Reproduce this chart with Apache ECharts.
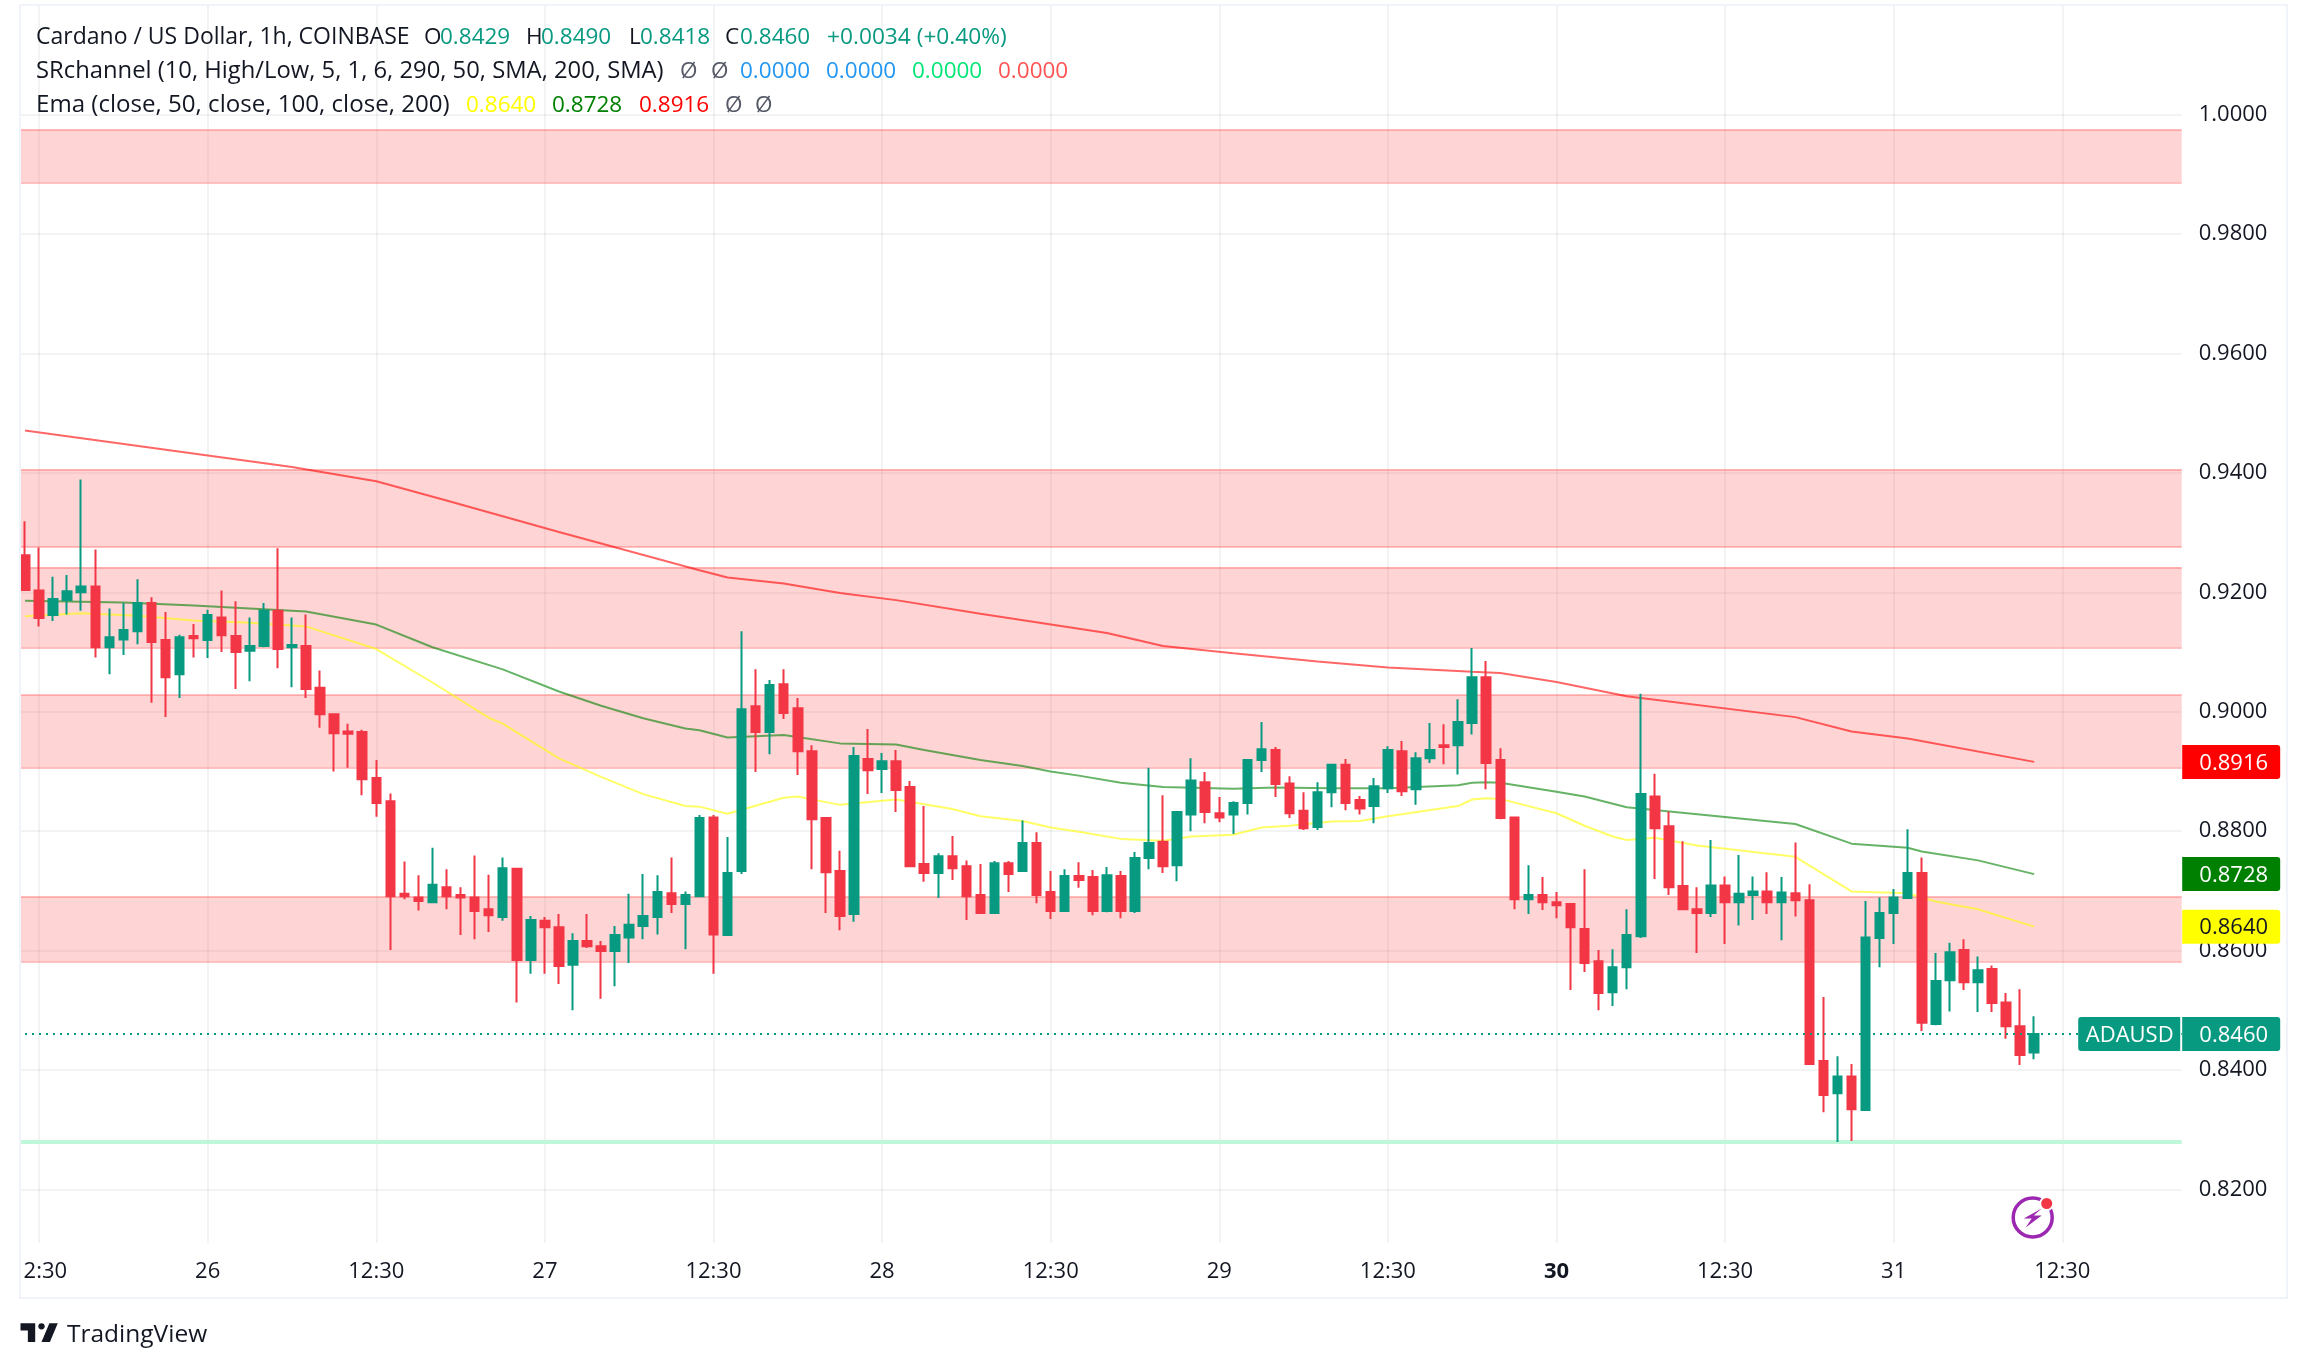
<!DOCTYPE html>
<html>
<head>
<meta charset="utf-8">
<style>html,body{margin:0;padding:0;background:#fff}#chart-container{width:2308px;height:1369px}</style>
<script src="https://cdn.jsdelivr.net/npm/echarts@6/dist/echarts.min.js"></script>
</head>
<body>
<div id="chart-container"></div>
<script>
// OHLC, one entry per hourly bar
const opens = [
  .9262,.9203,.9162,.9187,.9200,.9210,.9108,.9121,.9135,.9182,
  .9120,.9063,.9127,.9120,.9158,.9127,.9102,.9110,.9169,.9108,
  .9110,.9040,.8996,.8967,.8966,.8889,.8850,.8695,.8689,.8681,
  .8706,.8693,.8689,.8669,.8656,.8737,.8584,.8650,.8639,.8576,
  .8616,.8607,.8599,.8622,.8641,.8656,.8696,.8678,.8691,.8823,
  .8626,.8733,.9009,.8966,.9046,.9006,.8934,.8822,.8733,.8661,
  .8921,.8904,.8917,.8874,.8745,.8730,.8758,.8741,.8693,.8663,
  .8746,.8733,.8780,.8698,.8666,.8725,.8723,.8666,.8725,.8666,
  .8755,.8782,.8743,.8828,.8882,.8830,.8828,.8847,.8919,.8936,
  .8880,.8834,.8807,.8865,.8911,.8852,.8842,.8872,.8934,.8870,
  .8922,.8944,.8944,.8981,.9058,.8919,.8823,.8686,.8693,.8681,
  .8678,.8636,.8582,.8530,.8572,.8624,.8858,.8808,.8708,.8669,
  .8663,.8709,.8681,.8693,.8699,.8681,.8696,.8684,.8415,.8361,
  .8389,.8333,.8621,.8663,.8688,.8730,.8477,.8550,.8601,.8547,
  .8569,.8513,.8473,.8429
];
const highs = [
  .9319,.9275,.9226,.9229,.9389,.9272,.9173,.9182,.9222,.9192,
  .9167,.9129,.9147,.9171,.9203,.9185,.9158,.9182,.9274,.9158,
  .9163,.9069,.8996,.8980,.8970,.8919,.8863,.8749,.8726,.8772,
  .8736,.8706,.8759,.8727,.8756,.8738,.8658,.8656,.8661,.8629,
  .8661,.8616,.8641,.8695,.8728,.8726,.8756,.8699,.8827,.8827,
  .8790,.9135,.9071,.9053,.9071,.9023,.8944,.8822,.8767,.8941,
  .8971,.8931,.8936,.8884,.8842,.8763,.8792,.8751,.8745,.8750,
  .8750,.8818,.8798,.8733,.8736,.8748,.8735,.8740,.8733,.8765,
  .8906,.8860,.8832,.8922,.8899,.8857,.8850,.8921,.8983,.8941,
  .8892,.8865,.8882,.8911,.8921,.8859,.8889,.8942,.8951,.8932,
  .8981,.8979,.9021,.9107,.9085,.8939,.8823,.8743,.8723,.8698,
  .8678,.8736,.8601,.8602,.8669,.9030,.8896,.8833,.8783,.8706,
  .8785,.8724,.8760,.8724,.8731,.8723,.8781,.8711,.8522,.8423,
  .8410,.8683,.8689,.8703,.8803,.8756,.8596,.8613,.8619,.8590,
  .8575,.8529,.8535,.8490
];
const lows = [
  .9204,.9143,.9152,.9163,.9169,.9091,.9063,.9095,.9113,.9015,
  .8991,.9023,.9091,.9090,.9100,.9038,.9051,.9108,.9073,.9041,
  .9023,.8973,.8900,.8906,.8860,.8824,.8601,.8686,.8667,.8681,
  .8669,.8626,.8619,.8631,.8650,.8513,.8561,.8561,.8544,.8500,
  .8604,.8519,.8540,.8579,.8619,.8627,.8663,.8602,.8691,.8561,
  .8626,.8728,.8899,.8929,.8988,.8894,.8736,.8663,.8634,.8648,
  .8862,.8864,.8832,.8740,.8715,.8688,.8718,.8651,.8663,.8663,
  .8698,.8733,.8679,.8653,.8666,.8705,.8659,.8664,.8654,.8663,
  .8736,.8730,.8716,.8800,.8813,.8815,.8795,.8828,.8899,.8857,
  .8822,.8802,.8802,.8840,.8835,.8828,.8813,.8864,.8859,.8844,
  .8914,.8912,.8895,.8962,.8870,.8820,.8669,.8661,.8668,.8654,
  .8534,.8564,.8500,.8507,.8535,.8621,.8720,.8693,.8669,.8596,
  .8656,.8611,.8642,.8651,.8661,.8617,.8657,.8409,.8329,.8279,
  .8281,.8333,.8572,.8611,.8688,.8465,.8475,.8498,.8534,.8497,
  .8497,.8452,.8408,.8418
];
const closes = [
  .9204,.9157,.9189,.9202,.9210,.9108,.9125,.9137,.9182,.9117,
  .9058,.9125,.9123,.9162,.9128,.9100,.9110,.9169,.9105,.9112,
  .9038,.8996,.8964,.8963,.8887,.8847,.8691,.8691,.8683,.8710,
  .8691,.8689,.8666,.8659,.8738,.8584,.8651,.8639,.8574,.8616,
  .8607,.8599,.8626,.8643,.8658,.8698,.8678,.8693,.8822,.8627,
  .8730,.9004,.8966,.9045,.8998,.8934,.8820,.8731,.8658,.8926,
  .8902,.8917,.8869,.8741,.8730,.8758,.8738,.8691,.8663,.8746,
  .8728,.8780,.8693,.8666,.8725,.8718,.8666,.8726,.8666,.8755,
  .8780,.8741,.8832,.8885,.8832,.8823,.8847,.8919,.8937,.8879,
  .8830,.8805,.8865,.8911,.8847,.8838,.8875,.8936,.8867,.8922,
  .8936,.8941,.8983,.9058,.8914,.8822,.8686,.8693,.8681,.8676,
  .8639,.8579,.8529,.8572,.8626,.8862,.8805,.8706,.8669,.8663,
  .8709,.8681,.8695,.8699,.8681,.8697,.8684,.8410,.8358,.8389,
  .8334,.8622,.8663,.8689,.8730,.8479,.8549,.8597,.8547,.8567,
  .8512,.8473,.8425,.8460
];

// EMA curves, read at the bars where they bend
const emaRedBars = [0,19,25,30,38,48,50,54,58,62,68,77,81,86,92,97,103,105,109,114,126,130,134,143];
const emaRedVals = [.9471,.9410,.9386,.9354,.9301,.9237,.9225,.9215,.9199,.9187,.9164,.9132,.9110,.9098,.9084,.9074,.9067,.9065,.9050,.9026,.8991,.8967,.8955,.8916];
const emaGreenBars = [0,7,12,16,20,25,29,34,38,41,44,47,48,50,54,58,62,64,68,71,73,75,78,81,86,89,93,97,102,103,104,105,109,111,114,126,130,134,135,139,143];
const emaGreenVals = [.9186,.9183,.9178,.9173,.9168,.9146,.9108,.9071,.9034,.9010,.8989,.8972,.8969,.8957,.8961,.8947,.8945,.8936,.8919,.8909,.8900,.8893,.8881,.8874,.8871,.8873,.8872,.8872,.8877,.8881,.8882,.8881,.8866,.8858,.8840,.8812,.8779,.8772,.8766,.8751,.8728];
const emaYellowBars = [0,4,8,12,16,20,25,29,33,34,38,41,44,47,48,50,54,55,58,62,64,66,68,71,73,75,78,81,83,86,88,90,93,95,97,102,103,104,105,109,111,113,114,116,119,126,130,134,136,139,143];
const emaYellowVals = [.9160,.9165,.9161,.9153,.9149,.9143,.9105,.9049,.8990,.8980,.8922,.8891,.8862,.8842,.8841,.8829,.8856,.8858,.8844,.8853,.8845,.8837,.8825,.8817,.8806,.8799,.8787,.8784,.8791,.8794,.8806,.8809,.8816,.8817,.8825,.8842,.8853,.8855,.8854,.8830,.8809,.8791,.8785,.8789,.8776,.8757,.8699,.8696,.8682,.8669,.8640];

// support / resistance channels
const bandTops = [.9975,.9406,.9242,.9028,.8690];
const bandBottoms = [.9887,.9276,.9108,.8907,.8582];
const supportLevel = .8279;
const lastPrice = .8460;

// axes
const priceTicks = [.82,.84,.86,.88,.90,.92,.94,.96,.98,1.0];
const timeTickBars = [1,13,25,37,49,61,73,85,97,109,121,133,145];
const timeTickLabels = ['12:30','26','12:30','27','12:30','28','12:30','29','12:30','30','12:30','31','12:30'];
const barSlots = 154; // bars plus the empty space on the right

// price tags on the right scale
const tagValues = [.8916,.8728,.8640,.8460];
const tagTexts = ['0.8916','0.8728','0.8640','0.8460'];
const tagFills = ['#ff0000','#008000','#ffff00','#089981'];
const tagInks = ['#ffffff','#ffffff','#131722','#ffffff'];

// legend rows: text, colour, left edge, font size
const legendRow1 = [
  ['Cardano / US Dollar, 1h, COINBASE', '#131722', 36, 23],
  ['O', '#131722', 424, 22.5], ['0.8429', '#089981', 440, 22.5],
  ['H', '#131722', 526, 22.5], ['0.8490', '#089981', 541, 22.5],
  ['L', '#131722', 629, 22.5], ['0.8418', '#089981', 640, 22.5],
  ['C', '#131722', 725, 22.5], ['0.8460', '#089981', 740, 22.5],
  ['+0.0034 (+0.40%)', '#089981', 827, 22.7]
];
const legendRow2 = [
  ['SRchannel (10, High/Low, 5, 1, 6, 290, 50, SMA, 200, SMA)', '#131722', 36, 23.8],
  ['Ø', '#555a66', 680, 22.5], ['Ø', '#555a66', 711, 22.5],
  ['0.0000', '#2196f3', 740, 22.5], ['0.0000', '#2196f3', 826, 22.5],
  ['0.0000', '#00e676', 912, 22.5], ['0.0000', '#ff5252', 998, 22.5]
];
const legendRow3 = [
  ['Ema (close, 50, close, 100, close, 200)', '#131722', 36, 24.1],
  ['0.8640', '#ffff00', 466, 22.5], ['0.8728', '#008000', 552, 22.5], ['0.8916', '#ff0000', 639, 22.5],
  ['Ø', '#555a66', 725, 22.5], ['Ø', '#555a66', 755, 22.5]
];

const UP = '#089981';
const DOWN = '#f23645';
const FONT = '"Open Sans", sans-serif';

const categories = [];
for (let i = 0; i < barSlots; i++) {
  const k = timeTickBars.indexOf(i);
  categories.push(k >= 0 ? timeTickLabels[k] : '');
}
const isTimeTick = function (i) { return timeTickBars.indexOf(i) >= 0; };

const candleData = opens.map(function (o, i) { return [o, closes[i], lows[i], highs[i]]; });
const zip = function (xs, ys) { return xs.map(function (x, i) { return [x, ys[i]]; }); };

const bandAreas = bandTops.map(function (t, i) { return [{ yAxis: t }, { yAxis: bandBottoms[i] }]; });
const bandEdges = bandTops.concat(bandBottoms).map(function (v) { return { yAxis: v }; });

var dom = document.getElementById('chart-container');
var myChart = echarts.init(dom, null, { renderer: 'canvas' });

function emaSeries(bars, vals, color) {
  return {
    type: 'line', data: zip(bars, vals), showSymbol: false, silent: true, z: 2,
    lineStyle: { color: color, width: 2 }, animation: false
  };
}

function renderTag(params, api) {
  const y = api.coord([0, api.value(1)])[1];
  const i = params.dataIndex;
  const right = params.coordSys.x + params.coordSys.width;
  const children = [{
    type: 'rect',
    shape: { x: right + 0.5, y: y - 17, width: 98, height: 34, r: [0, 3, 3, 0] },
    style: { fill: tagFills[i] }
  }, {
    type: 'text',
    style: { x: right + 52, y: y + 1.5, text: tagTexts[i], fill: tagInks[i], font: '500 22px ' + FONT, align: 'center', verticalAlign: 'middle' }
  }];
  if (i === tagValues.length - 1) {
    children.push({
      type: 'rect',
      shape: { x: right - 103.5, y: y - 17, width: 102, height: 34, r: [3, 0, 0, 3] },
      style: { fill: tagFills[i] }
    }, {
      type: 'text',
      style: { x: right - 52, y: y + 1.5, text: 'ADAUSD', fill: '#ffffff', font: '500 22px ' + FONT, align: 'center', verticalAlign: 'middle' }
    });
  }
  return { type: 'group', children: children };
}

function legendTexts(row, y) {
  return row.map(function (c) {
    return {
      type: 'text', x: c[2], y: y, z: 30,
      style: { text: c[0], fill: c[1], font: c[3] + 'px ' + FONT, verticalAlign: 'middle' }
    };
  });
}

const iconX = 2032.7, iconY = 1217.5;

const option = {
  animation: false,
  backgroundColor: '#ffffff',
  textStyle: { fontFamily: FONT },
  grid: { left: 18, top: 5, width: 14.05 * barSlots, height: 1238 },
  xAxis: {
    type: 'category',
    data: categories,
    axisLine: { show: false },
    axisTick: { show: false },
    axisLabel: {
      interval: function (i) { return isTimeTick(i); },
      margin: 18,
      fontSize: 22,
      color: '#131722',
      fontFamily: FONT,
      hideOverlap: false,
      formatter: function (v) { return v === '30' ? '{b|30}' : v; },
      rich: { b: { fontSize: 22, fontWeight: 'bold', color: '#131722', fontFamily: FONT } }
    },
    splitLine: {
      show: true,
      alignWithLabel: true,
      interval: function (i) { return isTimeTick(i); },
      lineStyle: { color: 'rgba(42,46,57,0.06)', width: 2 }
    }
  },
  yAxis: {
    type: 'value',
    position: 'right',
    min: 0.811,
    max: 1.0184,
    axisLine: { show: false },
    axisTick: { show: false, customValues: priceTicks },
    axisLabel: {
      customValues: priceTicks,
      margin: 17,
      padding: [6, 0, 0, 0],
      fontSize: 22,
      color: '#131722',
      fontFamily: FONT,
      formatter: function (v) { return v.toFixed(4); }
    },
    splitLine: { show: true, lineStyle: { color: 'rgba(42,46,57,0.06)', width: 2 } }
  },
  series: [
    {
      type: 'line', data: [], silent: true, z: 1,
      markArea: { silent: true, z: 1, itemStyle: { color: 'rgba(255,82,82,0.25)' }, data: bandAreas },
      markLine: {
        silent: true, z: 1, symbol: 'none', precision: 4, label: { show: false },
        lineStyle: { color: 'rgba(255,82,82,0.35)', width: 2, type: 'solid' },
        data: bandEdges
      }
    },
    {
      type: 'line', data: [], silent: true, z: 1,
      markLine: {
        silent: true, z: 1, symbol: 'none', precision: 4, label: { show: false },
        lineStyle: { color: '#bff7da', width: 4, type: 'solid' },
        data: [{ yAxis: supportLevel }]
      }
    },
    emaSeries(emaRedBars, emaRedVals, 'rgba(255,0,0,0.6)'),
    emaSeries(emaGreenBars, emaGreenVals, 'rgba(0,128,0,0.6)'),
    emaSeries(emaYellowBars, emaYellowVals, 'rgba(255,255,0,0.6)'),
    {
      type: 'candlestick',
      data: candleData,
      barWidth: 9,
      z: 3,
      itemStyle: { color: UP, color0: DOWN, borderColor: UP, borderColor0: DOWN, borderWidth: 2 },
      markLine: {
        silent: true, z: 4, symbol: 'none', precision: 4, label: { show: false },
        lineStyle: { color: UP, width: 2, type: [2, 5] },
        data: [{ yAxis: lastPrice }]
      }
    },
    {
      type: 'custom',
      data: zip(tagValues.map(function (v, i) { return i; }), tagValues),
      encode: { x: 0, y: 1 },
      renderItem: renderTag,
      silent: true,
      clip: false,
      z: 6
    }
  ],
  graphic: [
    // white strip left of the pane hides what sticks out of it
    { type: 'rect', left: 0, top: 0, z: 20, shape: { width: 20, height: 1299 }, style: { fill: '#ffffff' } },
    { type: 'rect', x: 20, y: 5, z: 21, shape: { x: 0, y: 0, width: 2267, height: 1293 }, style: { fill: 'none', stroke: '#f0f3fa', lineWidth: 2 } },

    // lightning badge
    { type: 'circle', z: 22, shape: { cx: iconX, cy: iconY, r: 19.5 }, style: { fill: 'none', stroke: '#9c27b0', lineWidth: 3.5 } },
    { type: 'polygon', z: 22, shape: { points: [[iconX + 9, iconY - 9], [iconX - 9, iconY + 1], [iconX - 1, iconY + 1], [iconX - 7, iconY + 10], [iconX + 9, iconY - 2], [iconX + 1, iconY - 2]] }, style: { fill: '#9c27b0' } },
    { type: 'circle', z: 23, shape: { cx: iconX + 14, cy: iconY - 14, r: 6.5 }, style: { fill: '#f23645', stroke: '#ffffff', lineWidth: 2 } },

    // TradingView mark and name
    { type: 'polygon', z: 22, x: 20.5, y: 1319, scaleX: 1.05, scaleY: 1.05, shape: { points: [[14, 22], [7, 22], [7, 11], [0, 11], [0, 4], [14, 4]] }, style: { fill: '#131722' } },
    { type: 'polygon', z: 22, x: 20.5, y: 1319, scaleX: 1.05, scaleY: 1.05, shape: { points: [[28, 22], [20, 22], [27.5, 4], [35.5, 4]] }, style: { fill: '#131722' } },
    { type: 'circle', z: 22, x: 20.5, y: 1319, scaleX: 1.05, scaleY: 1.05, shape: { cx: 20, cy: 7, r: 3 }, style: { fill: '#131722' } },
    { type: 'text', x: 67, y: 1335, z: 22, style: { text: 'TradingView', font: '24.5px ' + FONT, fill: '#131722', verticalAlign: 'middle' } }
  ].concat(legendTexts(legendRow1, 37.5), legendTexts(legendRow2, 71.5), legendTexts(legendRow3, 105.5))
};

myChart.setOption(option);
window.addEventListener('resize', myChart.resize);
</script>
</body>
</html>
